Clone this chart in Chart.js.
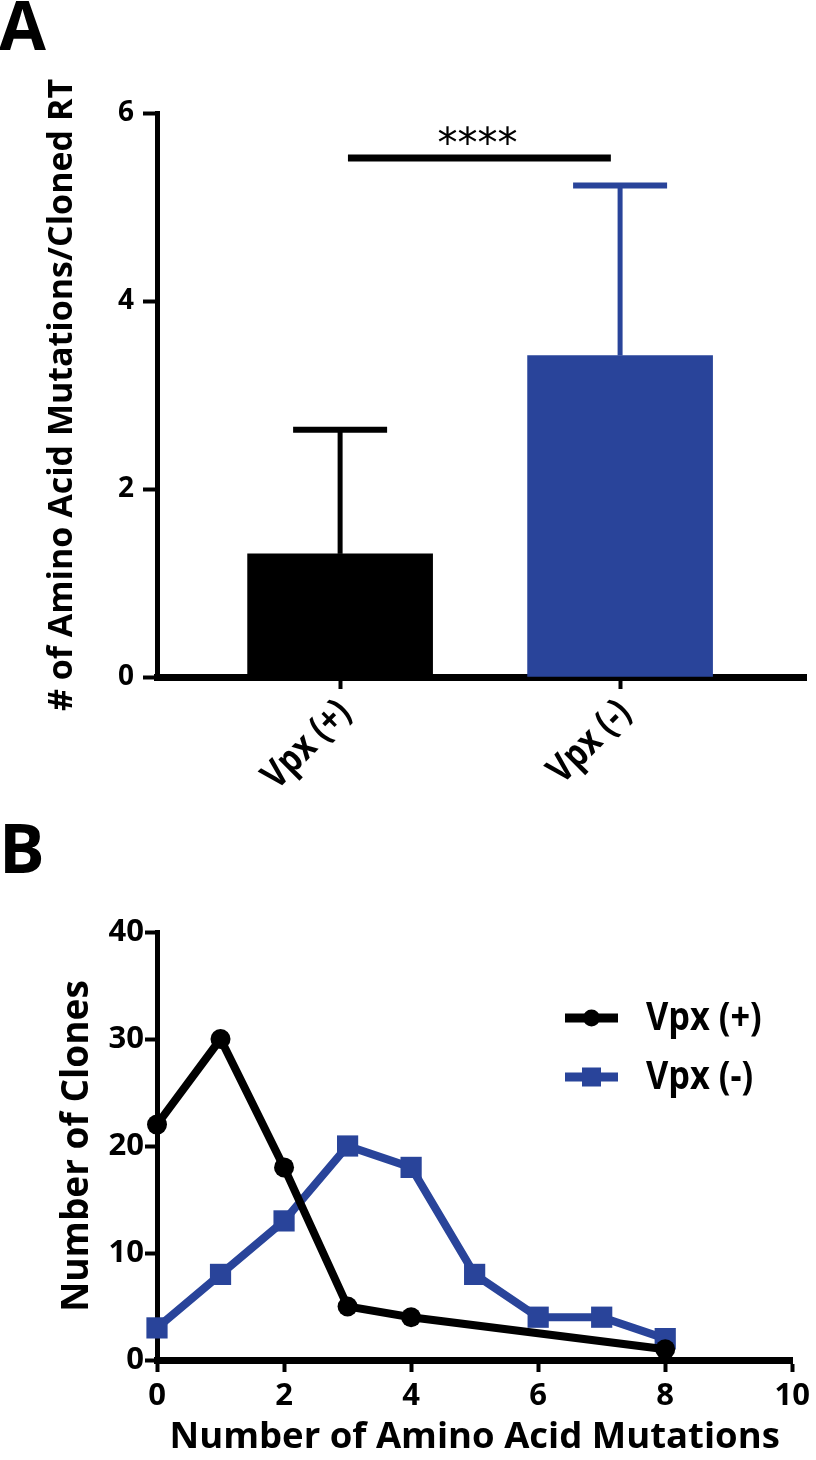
<!DOCTYPE html>
<html>
<head>
<meta charset="utf-8">
<script src="https://cdn.jsdelivr.net/npm/chart.js@4.4.1/dist/chart.umd.min.js"></script>
<style>
  html, body { margin: 0; padding: 0; background: #fff; }
  body { width: 816px; height: 1460px; position: relative; overflow: hidden; }
  .panel-label { position: absolute; left: -1px; font-family: 'Open Sans', sans-serif; font-weight: 700; font-size: 68px; line-height: 1; color: #000; }
  #wrapA { position: absolute; left: 0; top: 0; }
  #wrapB { position: absolute; left: 0; top: 880px; }
</style>
</head>
<body>
<div class="panel-label" style="top:-10px">A</div>
<div class="panel-label" style="top:813px">B</div>
<div id="wrapA"><canvas id="chartA" width="816" height="800"></canvas></div>
<div id="wrapB"><canvas id="chartB" width="816" height="580"></canvas></div>
<script>
// panel A: mean mutations per cloned RT
const groups = ['Vpx (+)', 'Vpx (-)'];
const groupPos = [1, 2];
const meanMutations = [1.31, 3.42];
const sdMutations = [1.32, 1.81];
const barColors = ['#000000', '#29449a'];
const yTicksA = [0, 2, 4, 6];
const sigLabel = '****';

// panel B: distribution of clones
const mutationsPlus = [0, 1, 2, 3, 4, 8];
const clonesPlus = [22, 30, 18, 5, 4, 1];
const mutationsMinus = [0, 1, 2, 3, 4, 5, 6, 7, 8];
const clonesMinus = [3, 8, 13, 20, 18, 8, 4, 4, 2];

const BLUE = '#29449a';
const boldFont = size => ({ family: "'Open Sans', sans-serif", weight: 'bold', size: size });

// no condensed face installed, so squeeze Open Sans Bold horizontally
function condensedText(ctx, text, x, y, angle, size, squeeze, align) {
  ctx.save();
  ctx.translate(x, y);
  ctx.rotate(angle);
  ctx.scale(squeeze, 1);
  ctx.font = 'bold ' + size + "px 'Open Sans', sans-serif";
  ctx.fillStyle = '#000';
  ctx.textAlign = align;
  ctx.textBaseline = 'middle';
  ctx.fillText(text, 0, 0);
  ctx.restore();
}

const errorBars = {
  id: 'errorBars',
  afterDatasetsDraw(chart) {
    const { ctx, scales: { x, y } } = chart;
    ctx.save();
    groupPos.forEach((p, i) => {
      const cx = x.getPixelForValue(p);
      const base = y.getPixelForValue(meanMutations[i]);
      const top = y.getPixelForValue(meanMutations[i] + sdMutations[i]);
      ctx.strokeStyle = barColors[i];
      ctx.lineWidth = 5;
      ctx.beginPath(); ctx.moveTo(cx, base); ctx.lineTo(cx, top); ctx.stroke();
      ctx.lineWidth = 6;
      ctx.beginPath(); ctx.moveTo(cx - 47, top); ctx.lineTo(cx + 47, top); ctx.stroke();
    });
    // significance bar
    const x1 = x.getPixelForValue(1.028), x2 = x.getPixelForValue(1.967);
    const sy = y.getPixelForValue(5.52);
    ctx.strokeStyle = '#000';
    ctx.lineWidth = 7;
    ctx.beginPath(); ctx.moveTo(x1, sy); ctx.lineTo(x2, sy); ctx.stroke();
    ctx.fillStyle = '#000';
    ctx.font = "40px 'DejaVu Sans', sans-serif";
    ctx.textAlign = 'center';
    ctx.textBaseline = 'alphabetic';
    ctx.fillText(sigLabel, (x1 + x2) / 2 - 2, sy - 1);
    ctx.restore();
  },
  afterDraw(chart) {
    const { ctx, scales: { x } } = chart;
    groupPos.forEach((p, i) => {
      condensedText(ctx, groups[i], x.getPixelForValue(p) + 5, x.top + 30, -Math.PI / 4, 38, 0.84, 'right');
    });
  }
};

new Chart(document.getElementById('chartA'), {
  type: 'bar',
  data: {
    datasets: [{
      data: groupPos.map((p, i) => ({ x: p, y: meanMutations[i] })),
      backgroundColor: barColors,
      borderWidth: 0,
      barThickness: 185
    }]
  },
  options: {
    responsive: false,
    animation: false,
    layout: { padding: { top: 113, right: 10, left: 0, bottom: 0 } },
    plugins: { legend: { display: false }, tooltip: { enabled: false } },
    scales: {
      x: {
        type: 'linear', min: 0.346, max: 2.664, offset: false, z: 1,
        afterBuildTicks: s => { s.ticks = groupPos.map(v => ({ value: v })); },
        afterFit: s => { s.height = 123; },
        grid: { drawOnChartArea: false, offset: false, tickLength: 12, tickWidth: 4, tickColor: '#000' },
        border: { color: '#000', width: 7 },
        ticks: { display: false }
      },
      y: {
        min: 0, max: 6,
        afterBuildTicks: s => { s.ticks = yTicksA.map(v => ({ value: v })); },
        afterFit: s => { s.width = 157; },
        grid: { drawOnChartArea: false, tickLength: 14, tickWidth: 4, tickColor: '#000' },
        border: { color: '#000', width: 5 },
        ticks: { padding: 9, color: '#000', font: boldFont(28) },
        title: {
          display: true, text: '# of Amino Acid Mutations/Cloned RT', color: '#000',
          font: boldFont(34), padding: { top: 42, bottom: 0 }
        }
      }
    }
  },
  plugins: [errorBars]
});

const legendB = {
  id: 'legendB',
  afterDraw(chart) {
    const { ctx } = chart;
    ctx.save();
    chart.data.datasets.forEach((ds, i) => {
      const y = 138 + i * 59;
      ctx.strokeStyle = ds.borderColor;
      ctx.lineWidth = 9;
      ctx.beginPath(); ctx.moveTo(565, y); ctx.lineTo(618, y); ctx.stroke();
      ctx.fillStyle = ds.borderColor;
      if (ds.pointStyle === 'rect') {
        ctx.fillRect(582, y - 9.5, 19, 19);
      } else {
        ctx.beginPath(); ctx.arc(591.5, y, 8.5, 0, Math.PI * 2); ctx.fill();
      }
      condensedText(ctx, ds.label, 646, y + 1, 0, 39, 0.88, 'left');
    });
    ctx.restore();
  }
};

new Chart(document.getElementById('chartB'), {
  type: 'line',
  data: {
    datasets: [{
      label: 'Vpx (+)',
      data: mutationsPlus.map((m, i) => ({ x: m, y: clonesPlus[i] })),
      borderColor: '#000', backgroundColor: '#000',
      borderWidth: 8, pointStyle: 'circle', pointRadius: 10, pointBorderWidth: 0,
      clip: false
    }, {
      label: 'Vpx (-)',
      data: mutationsMinus.map((m, i) => ({ x: m, y: clonesMinus[i] })),
      borderColor: BLUE, backgroundColor: BLUE,
      borderWidth: 8, pointStyle: 'rect', pointRadius: 15, pointBorderWidth: 0,
      clip: false
    }]
  },
  options: {
    responsive: false,
    animation: false,
    layout: { padding: { top: 52, right: 19, left: 0, bottom: 0 } },
    plugins: { legend: { display: false }, tooltip: { enabled: false } },
    scales: {
      x: {
        type: 'linear', min: 0, max: 10,
        ticks: { stepSize: 2, padding: 6, color: '#000', font: boldFont(31) },
        afterFit: s => { s.height = 100; },
        grid: { drawOnChartArea: false, tickLength: 12, tickWidth: 4, tickColor: '#000' },
        border: { color: '#000', width: 7 },
        title: {
          display: true, text: 'Number of Amino Acid Mutations', color: '#000',
          font: boldFont(36.5), padding: { top: 0, bottom: 0 }
        }
      },
      y: {
        min: 0, max: 40,
        ticks: { stepSize: 10, padding: 1, color: '#000', font: boldFont(31) },
        afterFit: s => { s.width = 157; },
        grid: { drawOnChartArea: false, tickLength: 12, tickWidth: 4, tickColor: '#000' },
        border: { color: '#000', width: 5 },
        title: {
          display: true, text: 'Number of Clones', color: '#000',
          font: boldFont(37), padding: { top: 55, bottom: 0 }
        }
      }
    }
  },
  plugins: [legendB]
});
</script>
</body>
</html>
